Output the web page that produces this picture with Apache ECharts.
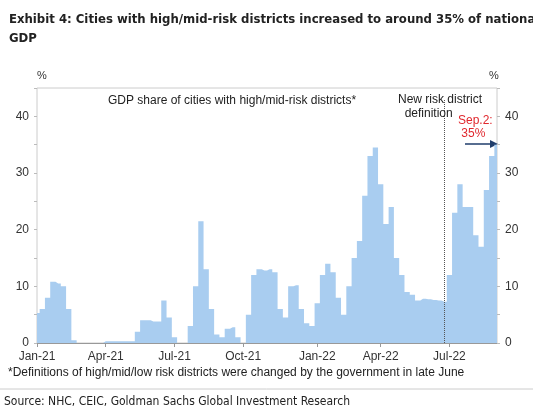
<!DOCTYPE html>
<html><head><meta charset="UTF-8">
<title>Exhibit 4</title>
<script src="https://cdn.jsdelivr.net/npm/echarts@6/dist/echarts.min.js"></script>
<style>
  *{margin:0;padding:0;}
  body{background:#fff;}
  #main{width:533px;height:411px;}
</style>
</head>
<body>
<div id="main"></div>
<script>
// weekly values, first week starting 2021-01-01
var startDate = new Date(Date.UTC(2021, 0, 1));
var shareValues = [
  5.3, 6, 8, 10.8, 10.5, 10, 6, 0.5, 0, 0, 0, 0, 0, 0.3, 0.3, 0.3, 0.3, 0.3, 0.3,
  2, 4, 4, 3.8, 3.8, 7.5, 4.5, 1, 0, 0, 3, 10, 21.5, 13, 6, 1.5, 1, 2.5, 2.8, 1, 0,
  5, 12, 13, 12.8, 13, 12.5, 6, 4.5, 10, 10.2, 6, 3.5, 3, 7, 12, 14, 12.5, 8, 5,
  10, 15, 18, 26, 33, 34.5, 28, 21, 24, 15, 12, 9, 8.5, 7.5, 7.8, 7.7, 7.6, 7.5, 7.3,
  12, 23, 28, 24, 24, 19, 17, 27, 33, 35
];
var monthNames = ['Jan','Feb','Mar','Apr','May','Jun','Jul','Aug','Sep','Oct','Nov','Dec'];
var weeks = [];
var labelIdx = {};
var seen = {};
for (var i = 0; i < shareValues.length; i++) {
  var d = new Date(startDate.getTime() + i * 7 * 86400000);
  var m = d.getUTCMonth();
  var key = m + '-' + d.getUTCFullYear();
  weeks.push(monthNames[m] + '-' + String(d.getUTCFullYear()).slice(2) + '#' + i);
  if (m % 3 == 0 && !seen[key]) { seen[key] = 1; labelIdx[i] = 1; }
}
var breakIdx = 77; // new risk district definition

var chart = echarts.init(document.getElementById('main'));
var yAx = function(pos){
  return {
    type:'value', min:0, max:45, interval:5, position:pos,
    axisLine:{show:false}, axisTick:{show:true,length:3,lineStyle:{color:'#bbb'}},
    splitLine:{show:false},
    axisLabel:{color:'#333',fontSize:12,fontFamily:'Arial',margin:8,
      formatter:function(v){ return v % 10 == 0 ? v : ''; }}
  };
};
chart.setOption({
  animation:false,
  textStyle:{fontFamily:'Arial'},
  title:{
    text:'Exhibit 4: Cities with high/mid-risk districts increased to around 35% of national\nGDP',
    left:4, top:5,
    textStyle:{fontSize:13,fontWeight:'bold',color:'#222',lineHeight:19,fontFamily:'DejaVu Sans Condensed'}
  },
  grid:{left:37,right:36,top:88,bottom:68,show:true,borderColor:'#ccc',borderWidth:1},
  xAxis:{
    type:'category', data:weeks, boundaryGap:false,
    axisLine:{lineStyle:{color:'#999'}},
    axisTick:{interval:function(i){return !!labelIdx[i];},length:4,lineStyle:{color:'#999'}},
    axisLabel:{interval:function(i){return !!labelIdx[i];},color:'#333',fontSize:12,
      formatter:function(v){return v.split('#')[0];}}
  },
  yAxis:[yAx('left'), yAx('right')],
  series:[{
    type:'line', step:'middle', data:shareValues, symbol:'none',
    lineStyle:{width:0}, areaStyle:{color:'#a9cdf0',opacity:1},
    markLine:{
      silent:true, symbol:'none',
      lineStyle:{color:'#555',type:'dotted',width:1},
      label:{show:false},
      data:[[{coord:[breakIdx,0]},{coord:[breakIdx,43]}]]
    }
  }],
  graphic:[
    {type:'text',left:37,top:70,style:{text:'%',fill:'#333',font:'11px Arial'}},
    {type:'text',left:489,top:70,style:{text:'%',fill:'#333',font:'11px Arial'}},
    {type:'text',left:108,top:95,style:{text:'GDP share of cities with high/mid-risk districts*',fill:'#222',font:'12px Arial'}},
    {type:'text',left:398,top:93,style:{text:'New risk district\n  definition',fill:'#222',font:'12px Arial',lineHeight:14}},
    {type:'text',left:458,top:114,style:{text:'Sep.2:\n 35%',fill:'#e0282e',font:'12px Arial',lineHeight:13}},
    {type:'line',shape:{x1:465,y1:144,x2:490,y2:144},style:{stroke:'#1f3d6b',lineWidth:1.5}},
    {type:'polygon',shape:{points:[[490,140],[498,144],[490,148]]},style:{fill:'#1f3d6b'}},
    {type:'text',left:8,top:367,style:{text:'*Definitions of high/mid/low risk districts were changed by the government in late June',fill:'#222',font:'12px Arial'}},
    {type:'line',shape:{x1:0,y1:389,x2:533,y2:389},style:{stroke:'#ccc',lineWidth:1}},
    {type:'text',left:4,top:396,style:{text:'Source: NHC, CEIC, Goldman Sachs Global Investment Research',fill:'#222',font:'12px "DejaVu Sans Condensed"'}}
  ]
});
</script>
</body></html>
